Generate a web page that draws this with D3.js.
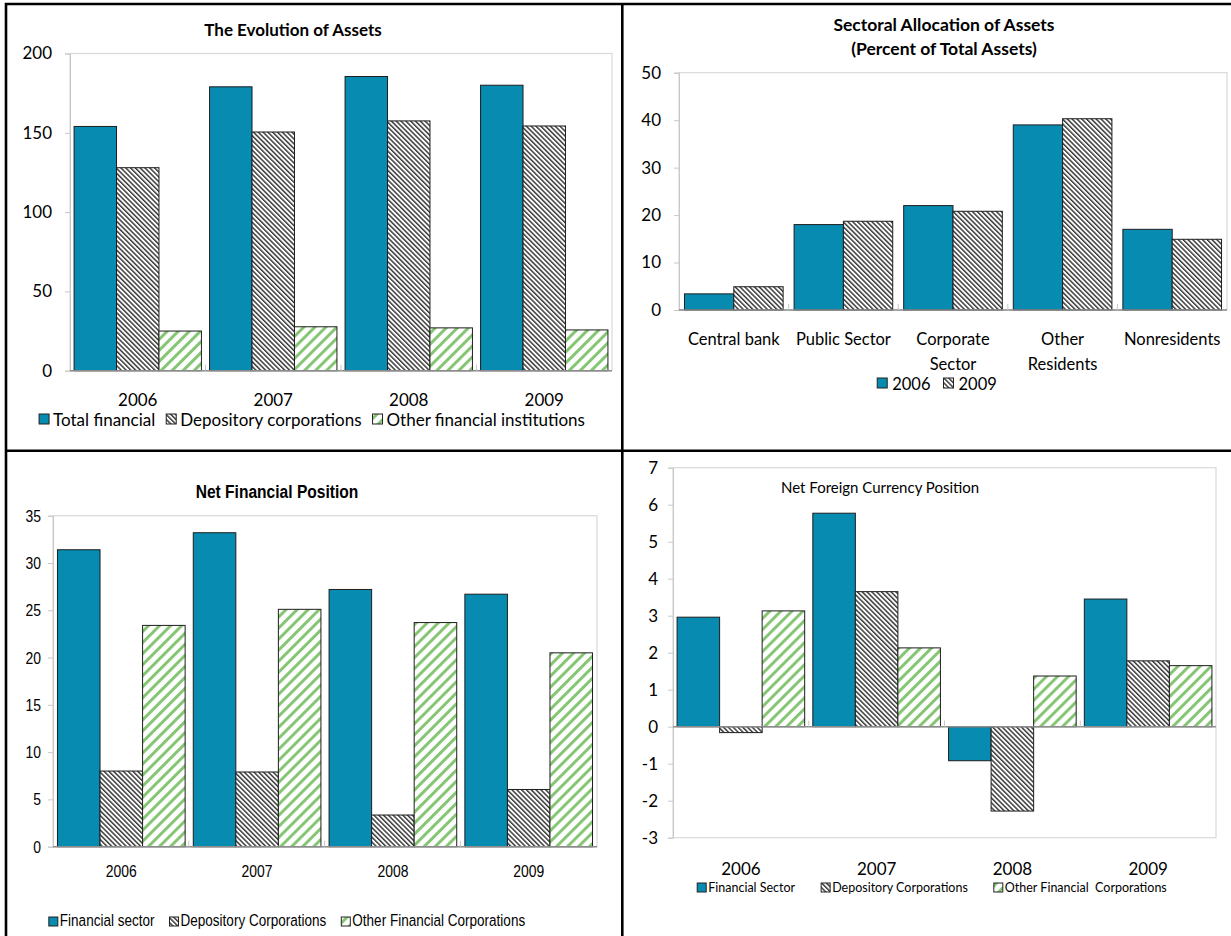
<!DOCTYPE html>
<html>
<head>
<meta charset="utf-8">
<script src="https://cdn.jsdelivr.net/npm/d3@7"></script>
<style>
  html, body { margin: 0; padding: 0; background: #fff; }
  svg { display: block; }
</style>
</head>
<body>
<svg id="chart" width="1231" height="936"></svg>
<script>
// ---------- data ----------
const years = ["2006", "2007", "2008", "2009"];

// The Evolution of Assets
const assetSeries = ["Total financial", "Depository corporations", "Other financial institutions"];
const assetTotal = [154, 179, 185.5, 180];
const assetDepository = [128, 150.5, 157.5, 154.3];
const assetOther = [25, 27.7, 27, 25.7];
const assetTicks = [0, 50, 100, 150, 200];

// Sectoral Allocation of Assets (percent of total assets)
const sectorLabels = [["Central bank"], ["Public Sector"], ["Corporate", "Sector"], ["Other", "Residents"], ["Nonresidents"]];
const allocSeries = ["2006", "2009"];
const alloc2006 = [3.4, 18.0, 22.0, 39.0, 17.0];
const alloc2009 = [4.9, 18.7, 20.8, 40.3, 14.9];
const allocTicks = [0, 10, 20, 30, 40, 50];

// Net Financial Position
const netSeries = ["Financial sector", "Depository Corporations", "Other Financial Corporations"];
const netFinancial = [31.4, 33.2, 27.2, 26.7];
const netDepository = [8.0, 7.9, 3.35, 6.05];
const netOther = [23.4, 25.1, 23.7, 20.5];
const netTicks = [0, 5, 10, 15, 20, 25, 30, 35];

// Net Foreign Currency Position
const fxSeries = ["Financial Sector", "Depository Corporations", "Other Financial  Corporations"];
const fxFinancial = [2.96, 5.77, -0.92, 3.45];
const fxDepository = [-0.16, 3.65, -2.28, 1.78];
const fxOther = [3.13, 2.13, 1.37, 1.65];
const fxTicks = [-3, -2, -1, 0, 1, 2, 3, 4, 5, 6, 7];

// ---------- styles ----------
const TEAL = "#078bb0";
const GREEN = "#86c574";
const SANS = "Lato, 'Open Sans', sans-serif";
const ARIAL = "'Liberation Sans', Arial, sans-serif";
const NARROW_X = 0.82;   // horizontal squeeze that turns Arial into a narrow face

const svg = d3.select("#chart");
svg.append("rect").attr("width", 1231).attr("height", 936).attr("fill", "#fff");

const defs = svg.append("defs");
function stripes(id, size, lineW, color, angle) {
  const p = defs.append("pattern")
    .attr("id", id)
    .attr("patternUnits", "userSpaceOnUse")
    .attr("width", size).attr("height", size)
    .attr("patternTransform", `rotate(${angle})`);
  p.append("rect").attr("width", size).attr("height", size).attr("fill", "#fff");
  p.append("rect").attr("width", lineW).attr("height", size).attr("fill", color);
}
stripes("hatch", 3.4, 1.5, "#3c3c3c", -45);
stripes("greenStripe", 7.8, 3, GREEN, 45);

const HATCH = "url(#hatch)";
const STRIPE = "url(#greenStripe)";

// ---------- outer frame of the four panels ----------
svg.append("path")
  .attr("d", "M6,936V4H1231M622.3,4V936M6,450.7H1231")
  .attr("fill", "none").attr("stroke", "#000").attr("stroke-width", 2.6);

// text placed at (x, y); sx < 1 compresses it horizontally around its anchor
function addText(g, x, y, str, font, size, opts = {}) {
  const sx = opts.sx || 1;
  return g.append("text")
    .attr("transform", `translate(${x},${y}) scale(${sx},1)`)
    .attr("font-family", font).attr("font-size", size)
    .attr("font-weight", opts.bold ? "bold" : "normal")
    .attr("text-anchor", opts.anchor || "middle")
    .attr("fill", "#000")
    .attr("xml:space", "preserve")
    .style("white-space", "pre")
    .text(str);
}

function legend(g, names, fills, cx, baseline, font, size, o) {
  const sx = o.sx || 1;
  const lg = g.append("g");
  let x = 0;
  names.forEach((name, i) => {
    lg.append("rect")
      .attr("x", x).attr("y", baseline - o.sw - o.drop)
      .attr("width", o.sw).attr("height", o.sw)
      .attr("fill", fills[i]).attr("stroke", "#222").attr("stroke-width", 1);
    const t = addText(lg, x + o.sw + o.gapIn, baseline, name, font, size, { anchor: "start", sx });
    x += o.sw + o.gapIn + t.node().getComputedTextLength() * sx + o.gapOut;
  });
  const w = x - o.gapOut;
  lg.attr("transform", `translate(${cx - w / 2},0)`);
}

// grouped bar chart inside a light frame
function barPanel(o) {
  const sx = o.sx || 1;
  const g = svg.append("g");
  const x0 = d3.scaleBand()
    .domain(d3.range(o.categories.length))
    .range([o.left, o.right])
    .paddingInner(o.padIn).paddingOuter(o.padOut);
  const x1 = d3.scaleBand()
    .domain(d3.range(o.values.length))
    .range([0, x0.bandwidth()]);
  const y = d3.scaleLinear().domain(o.domain).range([o.bottom, o.top]);

  g.append("rect")
    .attr("x", o.left).attr("y", o.top)
    .attr("width", o.right - o.left).attr("height", o.bottom - o.top)
    .attr("fill", "none").attr("stroke", "#d9d9d9").attr("stroke-width", 1.2);

  const axis = d3.axisLeft(y)
    .tickValues(o.ticks)
    .tickSize(5)
    .tickPadding(o.tickPad)
    .tickFormat(d => String(d));
  const ya = g.append("g").attr("transform", `translate(${o.left},0)`).call(axis);
  ya.select(".domain").attr("stroke", "#c8c8c8");
  ya.selectAll(".tick line").attr("stroke", "#c8c8c8");
  ya.selectAll(".tick text")
    .attr("font-family", o.font).attr("font-size", o.tickFont).attr("fill", "#000")
    .attr("transform", function () {
      return `translate(${+this.getAttribute("x")},0) scale(${sx},1)`;
    })
    .attr("x", 0);

  o.values.forEach((vals, s) => {
    g.append("g").selectAll("rect")
      .data(vals)
      .join("rect")
      .attr("x", (d, i) => x0(i) + x1(s))
      .attr("width", x1.bandwidth())
      .attr("y", d => y(Math.max(0, d)))
      .attr("height", d => Math.abs(y(d) - y(0)))
      .attr("fill", o.fills[s])
      .attr("stroke", "#1e1e1e").attr("stroke-width", 1);
  });

  // category axis along zero
  g.append("line")
    .attr("x1", o.left).attr("x2", o.right)
    .attr("y1", y(0)).attr("y2", y(0))
    .attr("stroke", "#8c8c8c").attr("stroke-width", 1.6);
  const step = x0.step();
  g.append("g").selectAll("line")
    .data(d3.range(1, o.categories.length))
    .join("line")
    .attr("x1", i => o.left + i * step).attr("x2", i => o.left + i * step)
    .attr("y1", y(0)).attr("y2", y(0) - 6)
    .attr("stroke", "#c8c8c8");

  // category labels
  o.categories.forEach((lab, i) => {
    const lines = Array.isArray(lab) ? lab : [lab];
    lines.forEach((ln, k) => {
      addText(g, x0(i) + x0.bandwidth() / 2, o.catY + k * o.catLine, ln, o.font, o.catFont, { sx });
    });
  });
  return g;
}

// ---------- top left: The Evolution of Assets ----------
const p1 = barPanel({
  left: 70, right: 612, top: 53.5, bottom: 370.7,
  domain: [0, 200], ticks: assetTicks, tickPad: 13,
  categories: years, values: [assetTotal, assetDepository, assetOther],
  fills: [TEAL, HATCH, STRIPE], padIn: 0.06, padOut: 0.03,
  font: SANS, tickFont: 17, catFont: 17, catY: 406, catLine: 0
});
addText(p1, 293, 36, "The Evolution of Assets", SANS, 17, { bold: true });
legend(p1, assetSeries, [TEAL, HATCH, STRIPE], 312, 426, SANS, 17,
  { sw: 10, drop: 2, gapIn: 4, gapOut: 11 });

// ---------- top right: Sectoral Allocation of Assets ----------
const p2 = barPanel({
  left: 679, right: 1227, top: 72.7, bottom: 310,
  domain: [0, 50], ticks: allocTicks, tickPad: 13,
  categories: sectorLabels, values: [alloc2006, alloc2009],
  fills: [TEAL, HATCH], padIn: 0.1, padOut: 0.05,
  font: SANS, tickFont: 17, catFont: 16.5, catY: 345, catLine: 25
});
addText(p2, 944, 31, "Sectoral Allocation of Assets", SANS, 17.5, { bold: true });
addText(p2, 944, 55, "(Percent of Total Assets)", SANS, 17.5, { bold: true });
legend(p2, allocSeries, [TEAL, HATCH], 937, 390, SANS, 16.5,
  { sw: 10, drop: 2, gapIn: 5, gapOut: 13 });

// ---------- bottom left: Net Financial Position ----------
const p3 = barPanel({
  left: 53, right: 597, top: 515.7, bottom: 846.7,
  domain: [0, 35], ticks: netTicks, tickPad: 7,
  categories: years, values: [netFinancial, netDepository, netOther],
  fills: [TEAL, HATCH, STRIPE], padIn: 0.06, padOut: 0.033,
  font: ARIAL, tickFont: 17, catFont: 17, catY: 877, catLine: 0, sx: NARROW_X
});
addText(p3, 277, 498, "Net Financial Position", ARIAL, 19, { bold: true, sx: NARROW_X });
legend(p3, netSeries, [TEAL, HATCH, STRIPE], 287, 926, ARIAL, 16.5,
  { sw: 9, drop: 0, gapIn: 2, gapOut: 15, sx: NARROW_X });

// ---------- bottom right: Net Foreign Currency Position ----------
const p4 = barPanel({
  left: 673, right: 1216, top: 467.7, bottom: 837.7,
  domain: [-3, 7], ticks: fxTicks, tickPad: 10,
  categories: years, values: [fxFinancial, fxDepository, fxOther],
  fills: [TEAL, HATCH, STRIPE], padIn: 0.06, padOut: 0.03,
  font: SANS, tickFont: 17, catFont: 17, catY: 875, catLine: 0
});
addText(p4, 781, 493, "Net Foreign Currency Position", SANS, 15, { anchor: "start" });
legend(p4, fxSeries, [TEAL, HATCH, STRIPE], 932, 892, SANS, 12.5,
  { sw: 9, drop: 0, gapIn: 2, gapOut: 26 });
</script>
</body>
</html>
